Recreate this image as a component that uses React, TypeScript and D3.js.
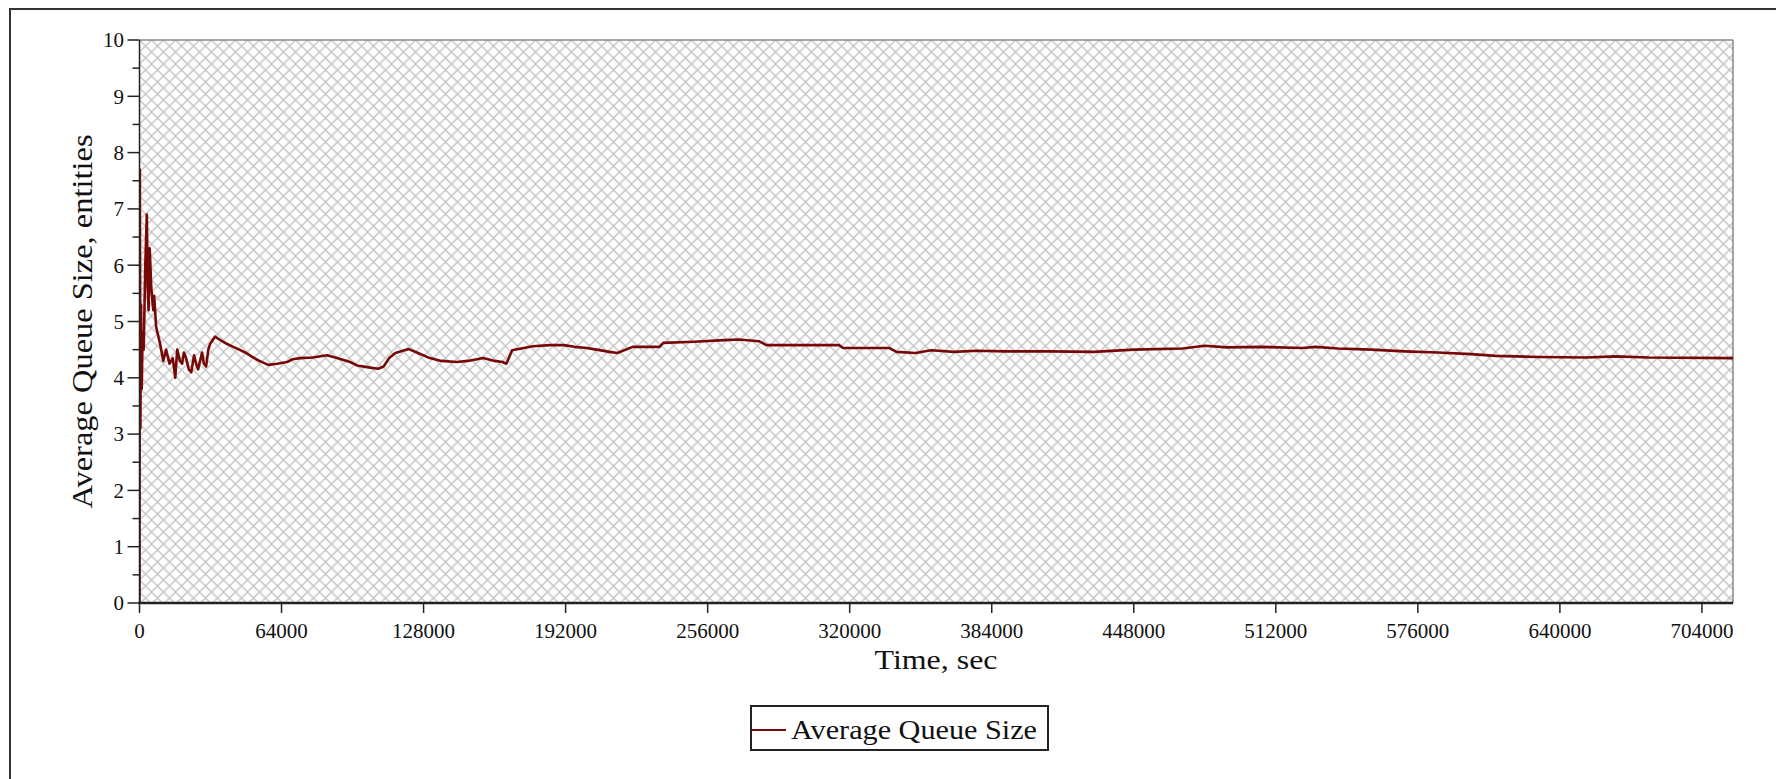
import React from "react";
import * as d3 from "d3";

const timeSec = [
  0, 150, 400, 700, 1000, 1400, 1900, 2600, 3300, 3700, 4100, 4600, 5300, 6200, 6600, 7500, 8400, 9300,
  10700, 12000, 13500, 15000, 16100, 17000, 18200, 19200, 20000, 21000, 22200, 23300, 24600, 25500, 26400,
  27300, 28200, 29000, 30000, 31000, 31800, 34000, 36000, 37200, 39500, 42200, 45000, 47600, 50800, 54000,
  58000, 62000, 66500, 69000, 72400, 78000, 84500, 89000, 94900, 98000, 102500, 107500, 110000, 112500,
  115300, 121300, 125000, 130800, 136000, 142900, 148000, 154900, 160000, 163600, 165300, 167900, 172000,
  177300, 185000, 191200, 196000, 201500, 206000, 211800, 215300, 222200, 234300, 236000, 249800, 263500,
  270000, 279100, 282500, 300000, 315200, 317000, 337700, 341100, 349700, 356600, 366900, 377300, 390000,
  410000, 430000, 448000, 470000, 480000, 490000, 505000, 524000, 530000, 540000, 555000, 570000, 585000,
  600000, 611000, 630000, 652000, 665000, 680000, 718000,
];
const avgQueue = [
  0, 7.7, 3.1, 5.3, 3.8, 4.8, 4.5, 6.0, 6.9, 5.6, 5.2, 6.3, 5.6, 5.2, 5.45, 4.9, 4.75, 4.6,
  4.3, 4.5, 4.25, 4.35, 4.0, 4.5, 4.3, 4.25, 4.45, 4.35, 4.15, 4.1, 4.4, 4.25, 4.15,
  4.3, 4.45, 4.25, 4.2, 4.5, 4.6, 4.73, 4.68, 4.65, 4.6, 4.55, 4.5, 4.45, 4.37, 4.3,
  4.23, 4.25, 4.28, 4.33, 4.35, 4.36, 4.4, 4.35, 4.28, 4.22, 4.19, 4.16, 4.2, 4.35,
  4.44, 4.51, 4.45, 4.35, 4.3, 4.28, 4.3, 4.35, 4.3, 4.28, 4.25, 4.49, 4.52,
  4.56, 4.58, 4.58, 4.55, 4.53, 4.5, 4.46, 4.44, 4.55, 4.55, 4.62, 4.64, 4.67,
  4.68, 4.65, 4.58, 4.58, 4.58, 4.53, 4.53, 4.46, 4.44, 4.49, 4.46, 4.48, 4.47,
  4.47, 4.46, 4.5, 4.52, 4.57, 4.54, 4.55, 4.53, 4.55, 4.52, 4.5, 4.47, 4.45,
  4.42, 4.39, 4.37, 4.36, 4.38, 4.36, 4.35,
];
const xTickValues = [0, 64000, 128000, 192000, 256000, 320000, 384000, 448000, 512000, 576000, 640000, 704000];
const yTickValues = [0, 1, 2, 3, 4, 5, 6, 7, 8, 9, 10];
const yMinorValues = [0.5, 1.5, 2.5, 3.5, 4.5, 5.5, 6.5, 7.5, 8.5, 9.5];
const xDomainMax = 718000;
const seriesName = "Average Queue Size";
const xTitle = "Time, sec";
const yTitle = "Average Queue Size, entities";

const W = 1776;
const H = 779;
const left = 139.5;
const right = 1733;
const top = 40;
const bottom = 603;
const lineColor = "#760808";
const font = "'Liberation Serif', 'Times New Roman', serif";

export default function App() {
  const x = d3.scaleLinear().domain([0, xDomainMax]).range([left, right]);
  const y = d3.scaleLinear().domain([0, 10]).range([bottom, top]);
  const pts = timeSec.map((t, i) => [t, avgQueue[i]] as [number, number]);
  const line = d3
    .line<[number, number]>()
    .x((d) => x(d[0]))
    .y((d) => y(d[1]))
    .curve(d3.curveLinear);
  const path = line(pts) || "";

  return (
    <svg
      width={W}
      height={H}
      style={{ position: "absolute", left: 0, top: 0, background: "#fff" }}
      fontFamily={font}
    >
      <defs>
        <pattern id="hatch" width={12} height={12} patternUnits="userSpaceOnUse" x={left} y={top}>
          <rect width={12} height={12} fill="#fefefe" />
          <path d="M0,0 L12,12 M12,0 L0,12 M-1,11 L1,13 M11,-1 L13,1" stroke="#c2c2c2" strokeWidth={1.3} />
        </pattern>
        <clipPath id="plotClip">
          <rect x={left} y={top - 2} width={right - left} height={bottom - top + 2} />
        </clipPath>
      </defs>
      {/* outer frame */}
      <rect x={10} y={9} width={1800} height={800} fill="none" stroke="#333" strokeWidth={2} />
      {/* plot area */}
      <rect x={left} y={top} width={right - left} height={bottom - top} fill="url(#hatch)" />
      <line x1={left} y1={top} x2={right} y2={top} stroke="#888" strokeWidth={1.5} />
      <line x1={right} y1={top} x2={right} y2={bottom} stroke="#888" strokeWidth={1.5} />
      {/* series */}
      <g clipPath="url(#plotClip)">
        <path d={path} fill="none" stroke={lineColor} strokeWidth={2.6} strokeLinejoin="round" />
      </g>
      {/* axes */}
      <line x1={left} y1={top} x2={left} y2={bottom} stroke="#222" strokeWidth={1.5} />
      <line x1={left - 1} y1={bottom} x2={right} y2={bottom} stroke="#222" strokeWidth={2.5} />
      {yTickValues.map((v) => (
        <g key={"y" + v}>
          <line x1={left - 12} x2={left} y1={y(v)} y2={y(v)} stroke="#222" strokeWidth={1.5} />
          <text x={124} y={y(v)} dy="0.35em" textAnchor="end" fontSize={21} fill="#111">
            {v}
          </text>
        </g>
      ))}
      {yMinorValues.map((v) => (
        <line key={"ym" + v} x1={left - 7} x2={left} y1={y(v)} y2={y(v)} stroke="#222" strokeWidth={1.5} />
      ))}
      {xTickValues.map((v) => (
        <g key={"x" + v}>
          <line x1={x(v)} x2={x(v)} y1={bottom} y2={bottom + 10} stroke="#222" strokeWidth={1.5} />
          <text x={x(v)} y={638} textAnchor="middle" fontSize={21} fill="#111">
            {v}
          </text>
        </g>
      ))}
      {/* axis titles */}
      <text x={936} y={669} textAnchor="middle" fontSize={28} fill="#111" textLength={123} lengthAdjust="spacingAndGlyphs">
        {xTitle}
      </text>
      <text
        transform={`translate(92,${(top + bottom) / 2}) rotate(-90)`}
        textAnchor="middle"
        fontSize={29}
        fill="#111"
        textLength={374}
        lengthAdjust="spacingAndGlyphs"
      >
        {yTitle}
      </text>
      {/* legend */}
      <rect x={751} y={706} width={297} height={44} fill="#fff" stroke="#222" strokeWidth={2} />
      <line x1={751} x2={786} y1={730} y2={730} stroke={lineColor} strokeWidth={2.2} />
      <text x={791} y={739} fontSize={28} fill="#111" textLength={246} lengthAdjust="spacingAndGlyphs">
        {seriesName}
      </text>
    </svg>
  );
}
